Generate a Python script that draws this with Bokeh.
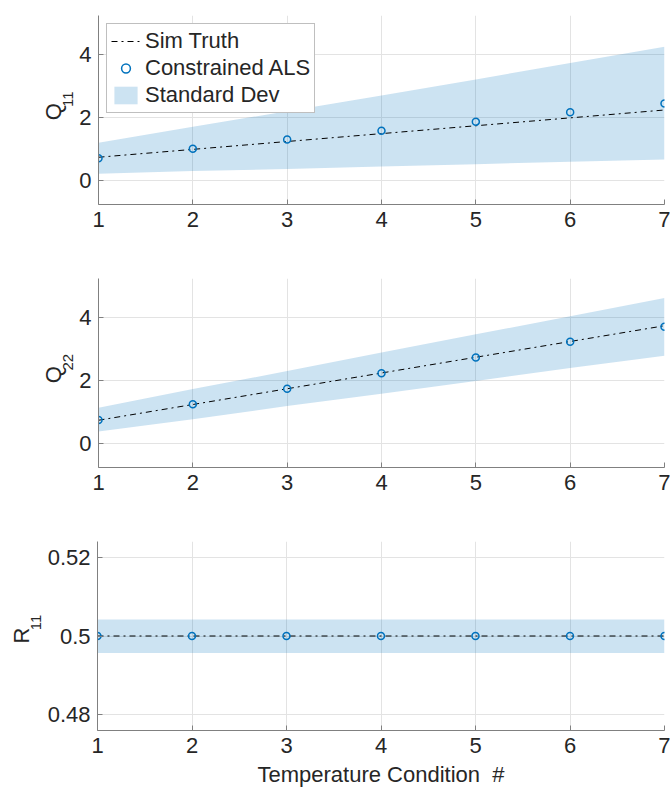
from bokeh.plotting import figure
from bokeh.layouts import column, row
from bokeh.models import Range1d, FixedTicker, Legend, LegendItem
from bokeh.core.properties import value
from bokeh.embed import file_html
from bokeh.resources import INLINE
import math

# ---- data ----
conditions = [1, 2, 3, 4, 5, 6, 7]

q11_truth = [0.75, 1.00, 1.25, 1.50, 1.75, 2.00, 2.25]
q11_als = [0.72, 1.02, 1.31, 1.59, 1.88, 2.18, 2.46]
q11_upper = [1.21, 1.72, 2.21, 2.71, 3.22, 3.74, 4.26]
q11_lower = [0.23, 0.31, 0.38, 0.46, 0.53, 0.61, 0.68]

q22_truth = [0.75, 1.25, 1.75, 2.25, 2.75, 3.25, 3.75]
q22_als = [0.76, 1.26, 1.75, 2.24, 2.74, 3.24, 3.72]
q22_upper = [1.15, 1.74, 2.31, 2.90, 3.48, 4.05, 4.63]
q22_lower = [0.39, 0.78, 1.20, 1.59, 2.00, 2.41, 2.80]

r11_truth = [0.5, 0.5, 0.5, 0.5, 0.5, 0.5, 0.5]
r11_als = [0.5, 0.5, 0.5, 0.5, 0.5, 0.5, 0.5]
r11_upper = [0.50425, 0.50425, 0.50425, 0.50425, 0.50425, 0.50425, 0.50425]
r11_lower = [0.49565, 0.49565, 0.49565, 0.49565, 0.49565, 0.49565, 0.49565]

x_ticks = [1, 2, 3, 4, 5, 6, 7]
q_ticks = [0, 2, 4]
r_ticks = [0.48, 0.5, 0.52]
r_tick_labels = {0.48: "0.48", 0.5: "0.5", 0.52: "0.52"}

FONT = "Liberation Sans"
TXT = "#262626"
AX = "#808080"
BLUE = "#0072BD"
TOTAL_W = 670
LEFT_EDGE = 97   # frame left edge within the page


def label_fig(width, height, main, sub, main_c, sub_c):
    """Narrow, axis-less strip holding the rotated y label with subscript.
    main_c / sub_c: text centres, in px from the strip's top-left corner."""
    f = figure(width=width, height=height, output_backend="svg",
               toolbar_location=None, x_axis_location=None,
               y_axis_location=None, x_range=Range1d(0, width),
               y_range=Range1d(0, height), min_border=0)
    f.outline_line_color = None
    f.grid.visible = False
    f.background_fill_color = "white"
    f.border_fill_color = "white"
    f.text(x=[main_c[0]], y=[height - main_c[1]], text=[main],
           angle=math.pi / 2, text_align="center", text_baseline="middle",
           text_font=value(FONT), text_font_size="22px", text_color=TXT)
    f.text(x=[sub_c[0]], y=[height - sub_c[1]], text=[sub],
           angle=math.pi / 2, text_align="center", text_baseline="middle",
           text_font=value(FONT), text_font_size="15px", text_color=TXT)
    return f


def make_panel(lab_w, truth, als, upper, lower, yrange, yticks, height,
               bottom, legend=False, xlabel=None, ylabels=None):
    p = figure(width=TOTAL_W - lab_w, height=height, output_backend="svg",
               toolbar_location=None,
               x_range=Range1d(1, 7), y_range=Range1d(*yrange),
               min_border_left=LEFT_EDGE - lab_w, min_border_right=6,
               min_border_top=15, min_border_bottom=bottom)
    p.outline_line_color = None
    p.background_fill_color = "white"
    p.border_fill_color = "white"

    band = p.varea(x=conditions, y1=lower, y2=upper, fill_color=BLUE,
                   fill_alpha=0.2)
    line = p.line(conditions, truth, line_color="black", line_width=1,
                  line_dash="6 4 2 4")
    pts = p.scatter(conditions, als, marker="circle", size=7,
                    fill_color=None, line_color=BLUE, line_width=1.5)

    for ax in (p.xaxis[0], p.yaxis[0]):
        ax.axis_line_color = AX
        ax.axis_line_width = 1
        ax.major_tick_line_color = AX
        ax.major_tick_in = 5
        ax.major_tick_out = 0
        ax.minor_tick_line_color = None
        ax.major_label_text_font = FONT
        ax.major_label_text_font_size = "22px"
        ax.major_label_text_color = TXT
        ax.axis_label_text_font = FONT
        ax.axis_label_text_font_size = "22px"
        ax.axis_label_text_font_style = "normal"
        ax.axis_label_text_color = TXT

    p.xaxis[0].ticker = FixedTicker(ticks=x_ticks)
    p.yaxis[0].ticker = FixedTicker(ticks=yticks)
    if ylabels:
        p.yaxis[0].major_label_overrides = ylabels
    p.xaxis[0].major_label_standoff = 7
    p.yaxis[0].major_label_standoff = 7
    if xlabel:
        p.xaxis[0].axis_label = xlabel
        p.xaxis[0].axis_label_standoff = 6

    p.xgrid.ticker = FixedTicker(ticks=x_ticks)
    p.ygrid.ticker = FixedTicker(ticks=yticks)
    p.grid.grid_line_color = "#e3e3e3"
    p.grid.grid_line_width = 1

    if legend:
        lg = Legend(items=[
            LegendItem(label="Sim Truth", renderers=[line]),
            LegendItem(label="Constrained ALS", renderers=[pts]),
            LegendItem(label="Standard Dev", renderers=[band]),
        ], location="top_left")
        lg.margin = 8
        lg.padding = 4
        lg.spacing = 1
        lg.glyph_width = 29
        lg.glyph_height = 22
        lg.label_standoff = 5
        lg.label_text_font = FONT
        lg.label_text_font_size = "22px"
        lg.label_text_color = TXT
        lg.border_line_color = "#808080"
        lg.border_line_width = 1
        lg.background_fill_color = "white"
        lg.background_fill_alpha = 1
        p.add_layout(lg)
    return p


QW, RW = 76, 44

l1 = label_fig(QW, 263, "Q", "11", (53, 134), (67, 116.5))
p1 = make_panel(QW, q11_truth, q11_als, q11_upper, q11_lower,
                (-0.75, 5.25), q_ticks, 263, 59, legend=True)
l2 = label_fig(QW, 263, "Q", "22", (53, 134), (67, 116.5))
p2 = make_panel(QW, q22_truth, q22_als, q22_upper, q22_lower,
                (-0.75, 5.25), q_ticks, 263, 59)
l3 = label_fig(RW, 265, "R", "11", (21, 132), (35, 113.5))
p3 = make_panel(RW, r11_truth, r11_als, r11_upper, r11_lower,
                (0.4758, 0.5242), r_ticks, 265, 61,
                xlabel="Temperature Condition\u00a0 #", ylabels=r_tick_labels)

layout = column(row(l1, p1, spacing=0), row(l2, p2, spacing=0),
                row(l3, p3, spacing=0), spacing=0)

open("out.html", "w").write(file_html(layout, INLINE))
